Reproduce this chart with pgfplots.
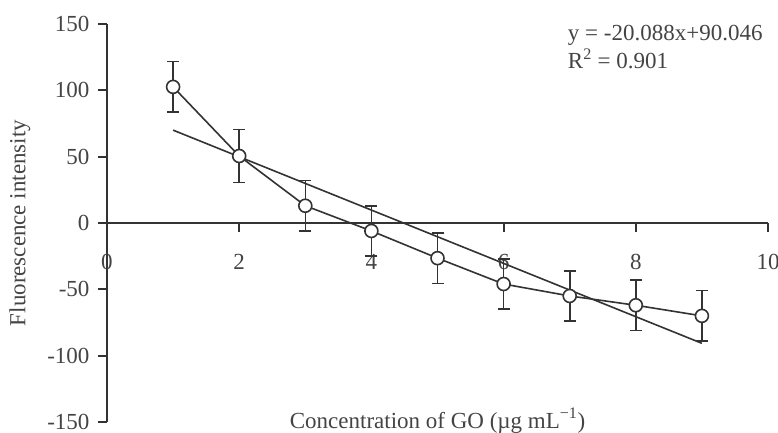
\documentclass[border=0pt]{standalone}
\usepackage{fontspec}
\setmainfont{Liberation Serif}
\usepackage{pgfplots}
\pgfplotsset{compat=1.18}
\definecolor{ink}{HTML}{333333}
\definecolor{txt}{HTML}{444444}
\begin{document}
\begin{tikzpicture}[font=\fontsize{23}{27}\selectfont]
% fix the page to the reference frame (axis origin = lower left of axis box)
\path[use as bounding box] (-107pt,-11pt) rectangle (671pt,422pt);
\begin{axis}[
    scale only axis,
    width=661pt, height=398pt,
    xmin=0, xmax=10,
    ymin=-150, ymax=150,
    axis x line=middle,
    axis y line=left,
    axis line style={ink, line width=1.8pt, -},
    hide obscured x ticks=false,
    hide obscured y ticks=false,
    xtick={0,2,...,10},
    ytick={-150,-100,...,150},
    tick align=outside,
    major tick length=9pt,
    tick style={ink, line width=1.8pt},
    /pgf/number format/assume math mode=true,
    ticklabel style={text=txt},
    xticklabel style={yshift=-19pt},
    yticklabel style={xshift=-5pt},
    xlabel={Concentration of GO (µg mL\textsuperscript{−1})},
    ylabel={Fluorescence intensity},
    every axis x label/.style={at={(rel axis cs:0.5,0)}, anchor=base, yshift=-6pt, text=txt},
    every axis y label/.style={at={(rel axis cs:0,0.5)}, rotate=90, anchor=center, yshift=87pt, text=txt},
    clip=false,
]
% measured means with error bars
\addplot[ink, line width=1.6pt,
    mark=*, mark size=6.5pt,
    mark options={fill=white, draw=ink, line width=1.6pt},
    error bars/.cd, y dir=both, y explicit,
    error bar style={ink, line width=1.6pt},
    error mark options={rotate=90, mark size=6pt, line width=1.6pt, ink}]
coordinates {
(1,102.6) +- (0,19)
(2,50.5)  +- (0,20)
(3,13)    +- (0,19)
(4,-6)    +- (0,19)
(5,-26.5) +- (0,19)
(6,-46)   +- (0,19)
(7,-55)   +- (0,19)
(8,-62)   +- (0,19)
(9,-70)   +- (0,19)
};
% linear fit
\addplot[ink, line width=1.6pt, mark=none] coordinates {(1,70.0) (9,-90.7)};
\node[anchor=base west, inner sep=0, text=txt] at (axis cs:6.97,137.9) {y = -20.088x+90.046};
\node[anchor=base west, inner sep=0, text=txt] at (axis cs:6.97,116.8) {R\textsuperscript{2} = 0.901};
\end{axis}
\end{tikzpicture}
\end{document}
